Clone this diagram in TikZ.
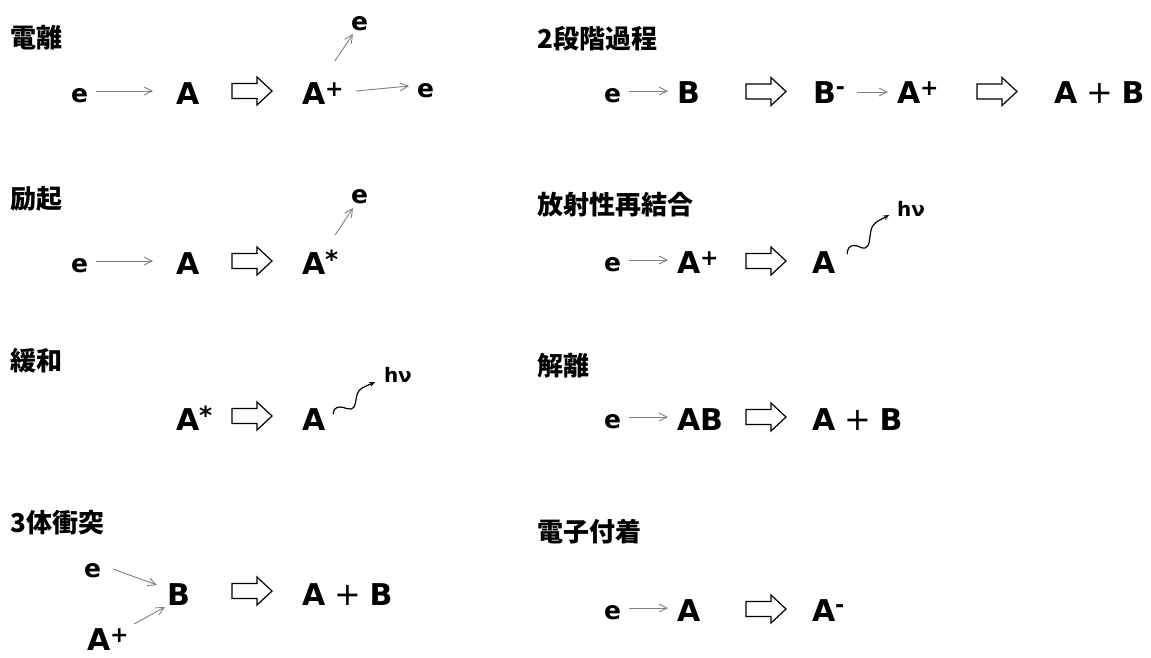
\documentclass[tikz,border=0pt]{standalone}
\usepackage{fontspec}
\setmainfont{DejaVu Sans}
\newfontfamily\jpfont{Noto Sans CJK JP}
\usetikzlibrary{arrows.meta,calc}
\newcommand\eqA{\bfseries\fontsize{30}{30}\selectfont}
\newcommand\eqE{\bfseries\fontsize{25}{25}\selectfont}
\newcommand\eqH{\bfseries\fontsize{20}{20}\selectfont}
\newcommand\supP{\raisebox{7.5pt}{\fontsize{22}{22}\selectfont +}}
\newcommand\supM{\raisebox{9pt}{\fontsize{22}{22}\selectfont -}}
\newcommand\supS{\raisebox{6pt}{\fontsize{25}{25}\selectfont *}}
\newcommand\plusAB{\hspace{9pt}\raisebox{0pt}{\mdseries\fontsize{32}{32}\selectfont +}\hspace{8.5pt}}
\begin{document}
\begin{tikzpicture}[x=1pt,y=-1pt,
  eq/.style={inner sep=0pt, outer sep=0pt, anchor=base west, text height=22pt, text depth=0pt, font=\eqA},
  el/.style={eq, font=\eqE},
  hv/.style={eq, font=\eqH},
  ttl/.style={inner sep=0pt, anchor=west, font=\jpfont\bfseries\fontsize{26}{26}\selectfont},
  tarr/.style={draw=black!50, line width=0.9pt, -{Straight Barb[length=8pt,width=8pt]}},
  warr/.style={draw=black, line width=1.2pt, -{Stealth[length=6pt,width=5pt]}},
  hollow/.pic={\draw[line width=1.2pt, line join=miter] (0,-7.5) -- (25,-7.5) -- (25,-14) -- (40,0) -- (25,14) -- (25,7.5) -- (0,7.5) -- cycle;},
  wave/.pic={\draw[warr] (0,0) .. controls (0,-4) and (2,-7) .. (7,-7) .. controls (12,-7) and (14,-4) .. (18,-5) .. controls (23,-6) and (22,-14) .. (24,-20) .. controls (26,-26) and (31,-27) .. (42,-32);}
]
\useasboundingbox (0,0) rectangle (1151,657);
\fill[white] (0,0) rectangle (1151,657);

% titles
\node[ttl] (T1) at (10,38) {電離};
\node[ttl] (T2) at (10,199) {励起};
\node[ttl] (T3) at (10,361) {緩和};
\node[ttl] (T4) at (10,523) {3体衝突};
\node[ttl] (T5) at (537,39) {2段階過程};
\node[ttl] (T6) at (537,205) {放射性再結合};
\node[ttl] (T7) at (537,366) {解離};
\node[ttl] (T8) at (537,532) {電子付着};

% ---- left row 1: ionisation
\node[el] (L1e) at (71,102) {e};
\node[eq] (L1A) at (176,104) {A};
\pic at (232,91) {hollow};
\node[eq] (L1Ap) at (302,104) {A\supP};
\node[el] (L1eu) at (351,30) {e};
\node[el] (L1er) at (417,97) {e};
\draw[tarr] ($(L1e.east)+(8,0)$) -- ($(L1e.east -| L1A.west)+(-23,0)$);
\draw[tarr] ($(L1Ap.north)+(12,-21)$) -- ($(L1eu.south)+(-6.5,4)$);
\draw[tarr] ($(L1Ap.east)+(12.5,-2)$) -- ($(L1er.west)+(-8,0)$);

% ---- left row 2: excitation
\node[el] (L2e) at (71,272) {e};
\node[eq] (L2A) at (176,274) {A};
\pic at (232,261) {hollow};
\node[eq] (L2As) at (302,274) {A\supS};
\node[el] (L2eu) at (351,203) {e};
\draw[tarr] ($(L2e.east)+(8,0)$) -- ($(L2e.east -| L2A.west)+(-23,0)$);
\draw[tarr] ($(L2As.north)+(15,-17)$) -- ($(L2eu.south)+(-6.5,5)$);

% ---- left row 3: relaxation
\node[eq] (L3As) at (176,430) {A\supS};
\pic at (232,416) {hollow};
\node[eq] (L3A) at (302,430) {A};
\node[hv] (L3hv) at (384,382) {hν};
\coordinate (w3) at ($(L3A.north east)+(8,6)$);
\pic at (w3) {wave};

% ---- left row 4: three-body
\node[el] (L4e) at (84,577) {e};
\node[eq] (L4B) at (167,605) {B};
\node[eq] (L4Ap) at (87,650) {A\supP};
\pic at (232,591) {hollow};
\node[eq] (L4AB) at (302,605) {A\plusAB B};
\draw[tarr] ($(L4e.east)+(12,3)$) -- ($(L4B.west)+(-10,-9)$);
\draw[tarr] ($(L4Ap.north east)+(5.5,-4)$) -- ($(L4B.south west)+(-2,2)$);

% ---- right row 1: two-step
\node[el] (R1e) at (604,102) {e};
\node[eq] (R1B) at (677,103) {B};
\pic at (746,91.5) {hollow};
\node[eq] (R1Bm) at (813,103) {B\supM};
\node[eq] (R1Ap) at (897,103) {A\supP};
\pic at (977,91.5) {hollow};
\node[eq] (R1AB) at (1054,103) {A\plusAB B};
\draw[tarr] ($(R1e.east)+(8,0)$) -- ($(R1e.east -| R1B.west)+(-9,0)$);
\draw[tarr] ($(R1Bm.east)+(12,0)$) -- ($(R1Bm.east -| R1Ap.west)+(-9,0)$);

% ---- right row 2: radiative recombination
\node[el] (R2e) at (604,271) {e};
\node[eq] (R2Ap) at (677,273) {A\supP};
\pic at (746,261) {hollow};
\node[eq] (R2A) at (812,273) {A};
\node[hv] (R2hv) at (897,216) {hν};
\draw[tarr] ($(R2e.east)+(8,0)$) -- ($(R2e.east -| R2Ap.west)+(-9,0)$);
\coordinate (w2) at ($(R2A.north east)+(12,3)$);
\pic[yscale=1.22] at (w2) {wave};

% ---- right row 3: dissociation
\node[el] (R3e) at (604,428) {e};
\node[eq] (R3AB) at (677,430) {AB};
\pic at (746,417) {hollow};
\node[eq] (R3AB2) at (812,430) {A\plusAB B};
\draw[tarr] ($(R3e.east)+(8,0)$) -- ($(R3e.east -| R3AB.west)+(-9,0)$);

% ---- right row 4: electron attachment
\node[el] (R4e) at (604,619) {e};
\node[eq] (R4A) at (677,621) {A};
\pic at (746,609) {hollow};
\node[eq] (R4Am) at (812,621) {A\supM};
\draw[tarr] ($(R4e.east)+(8,0)$) -- ($(R4e.east -| R4A.west)+(-9,0)$);
\end{tikzpicture}
\end{document}
